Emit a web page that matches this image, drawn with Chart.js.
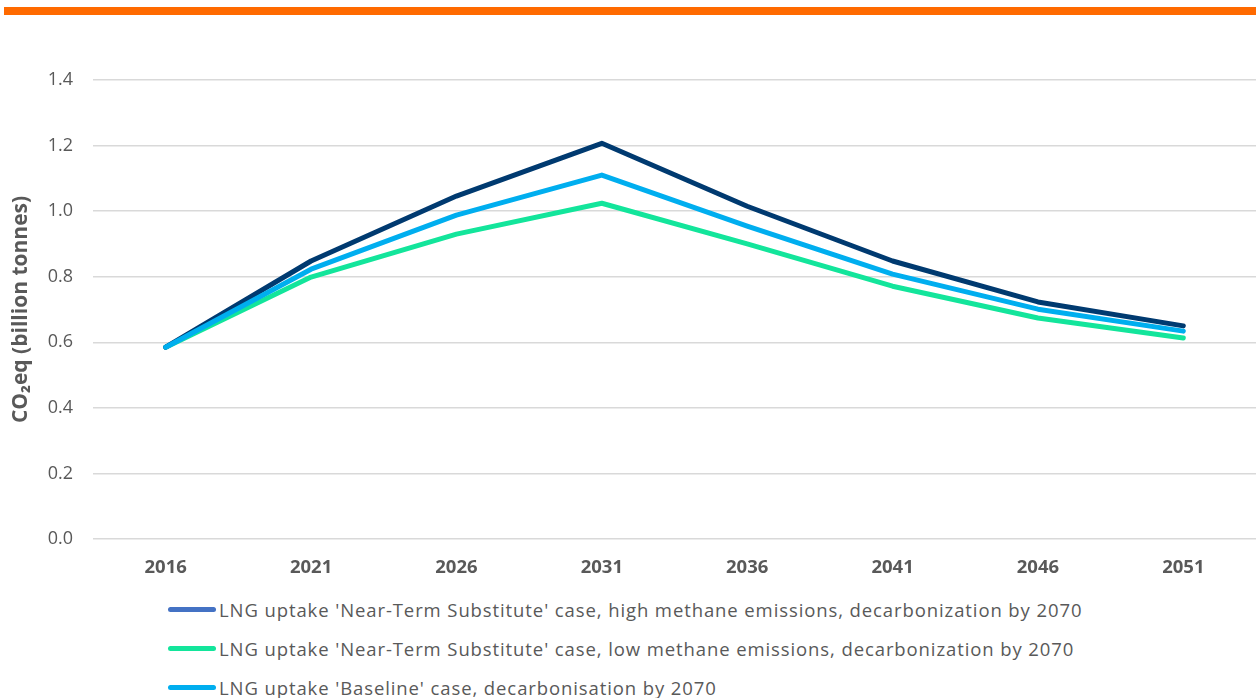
<!DOCTYPE html>
<html>
<head>
<meta charset="utf-8">
<script src="https://cdn.jsdelivr.net/npm/chart.js@4.4.1/dist/chart.umd.min.js"></script>
<style>
  html, body { margin: 0; padding: 0; background: #fff; }
  body { width: 1256px; height: 698px; position: relative; overflow: hidden; font-family: 'Open Sans', sans-serif; }
  #topbar { position: absolute; left: 4px; right: 0; top: 7px; height: 8px; background: #ff6a00; }
  #wrap { position: absolute; left: 0; top: 0; width: 1256px; height: 590px; }
  #legend { position: absolute; left: 168px; top: 590px; }
  .lg-item { display: flex; align-items: center; height: 39px; color: #595959; font-size: 18.5px; letter-spacing: 0.9px; white-space: nowrap; }
  .lg-sw { display: inline-block; width: 48px; height: 5px; border-radius: 3px; margin-right: 3px; }
</style>
</head>
<body>
<div id="topbar"></div>
<div id="wrap"><canvas id="chart"></canvas></div>
<div id="legend"></div>
<script>
const years = ['2016', '2021', '2026', '2031', '2036', '2041', '2046', '2051'];
const highMethane = [0.585, 0.848, 1.046, 1.207, 1.015, 0.848, 0.723, 0.650];
const lowMethane = [0.585, 0.799, 0.930, 1.024, 0.900, 0.771, 0.674, 0.613];
const baseline = [0.585, 0.823, 0.988, 1.110, 0.954, 0.808, 0.701, 0.634];
const yTicks = [0, 0.2, 0.4, 0.6, 0.8, 1.0, 1.2, 1.4];

const seriesLabels = [
  "LNG uptake 'Near-Term Substitute' case, high methane emissions, decarbonization by 2070",
  "LNG uptake 'Near-Term Substitute' case, low methane emissions, decarbonization by 2070",
  "LNG uptake 'Baseline' case, decarbonisation by 2070"
];
const lineColors = ['#003a70', '#13e59b', '#00aeef'];
const swatchColors = ['#4472c4', '#13e59b', '#00aeef'];

const FONT = "'Open Sans', sans-serif";
const GREY = '#595959';

const mkLine = (i, data, order) => ({
  label: seriesLabels[i],
  data,
  borderColor: lineColors[i],
  backgroundColor: lineColors[i],
  borderWidth: 5,
  borderCapStyle: 'round',
  borderJoinStyle: 'round',
  pointRadius: 0,
  tension: 0,
  order
});

new Chart(document.getElementById('chart'), {
  type: 'line',
  data: {
    labels: years,
    datasets: [mkLine(0, highMethane, 1), mkLine(1, lowMethane, 2), mkLine(2, baseline, 0)]
  },
  options: {
    responsive: true, maintainAspectRatio: false, animation: false,
    layout: { padding: { top: 80, right: 0, left: 0, bottom: 0 } },
    plugins: { legend: { display: false }, tooltip: { enabled: false } },
    scales: {
      x: {
        offset: true,
        grid: { display: false },
        border: { display: false },
        ticks: { color: GREY, font: { family: FONT, size: 18.5, weight: 'bold' }, padding: 10 },
        afterFit: s => { s.height = 51; }
      },
      y: {
        min: 0, max: 1.4,
        afterBuildTicks: s => { s.ticks = yTicks.map(v => ({ value: v })); },
        grid: { color: '#d9d9d9', lineWidth: 1.5, drawTicks: false },
        border: { display: false },
        ticks: { color: GREY, font: { family: FONT, size: 18 }, padding: 20, callback: v => v.toFixed(1) },
        title: { display: true, text: 'CO\u2082eq (billion tonnes)', color: GREY, font: { family: FONT, size: 21, weight: 'bold' }, padding: { top: 8, bottom: 4 } },
        afterFit: s => { s.width = 93; }
      }
    }
  }
});

document.getElementById('legend').innerHTML = seriesLabels.map((t, i) =>
  `<div class="lg-item"><span class="lg-sw" style="background:${swatchColors[i]}"></span><span>${t}</span></div>`
).join('');
</script>
</body>
</html>
